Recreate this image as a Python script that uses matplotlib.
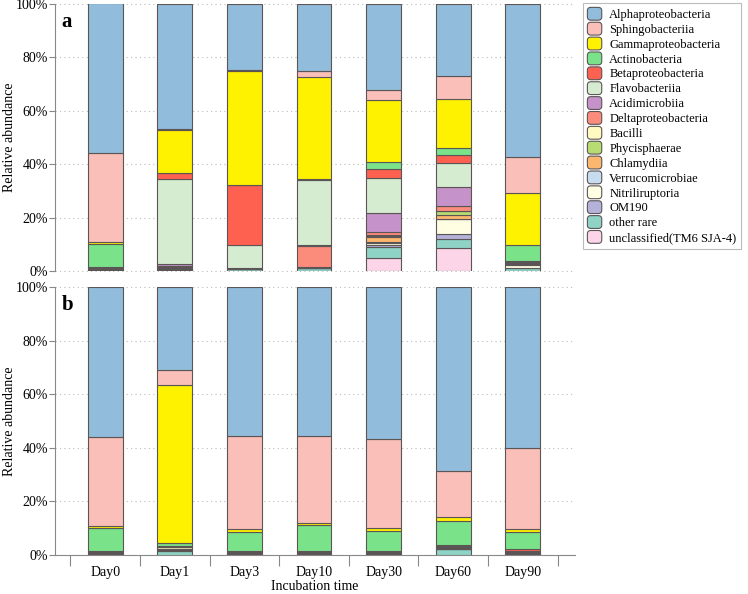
import numpy as np
import matplotlib
matplotlib.use("Agg")
import matplotlib.pyplot as plt
from matplotlib.patches import FancyBboxPatch, Patch
from matplotlib.legend_handler import HandlerPatch

plt.rcParams['font.family'] = ['Liberation Serif', 'DejaVu Serif']

days = ['Day0', 'Day1', 'Day3', 'Day10', 'Day30', 'Day60', 'Day90']

taxa = ['Alphaproteobacteria', 'Sphingobacteriia', 'Gammaproteobacteria',
        'Actinobacteria', 'Betaproteobacteria', 'Flavobacteriia',
        'Acidimicrobiia', 'Deltaproteobacteria', 'Bacilli', 'Phycisphaerae',
        'Chlamydiia', 'Verrucomicrobiae', 'Nitriliruptoria', 'OM190',
        'other rare', 'unclassified(TM6 SJA-4)']

colors = ['#91bcdb', '#fbbfb9', '#fff200', '#7ae38a', '#fe6150', '#d5ecd0',
          '#c593c9', '#fb8b7b', '#fffac0', '#b9dc72', '#fdb66d', '#c8dcef',
          '#fffde2', '#b4b2d8', '#8ed3c6', '#fcd6e8']

# panel a, % per day (same order as taxa)
a_alpha = [55.9, 47.0, 24.8, 25.0, 32.2, 26.8, 57.4]
a_sphingo = [33.4, 0.3, 0.2, 2.3, 3.6, 8.6, 13.2]
a_gamma = [0.8, 15.9, 42.7, 38.2, 23.4, 18.4, 19.7]
a_actino = [8.7, 0.2, 0.2, 0.2, 2.6, 2.9, 6.0]
a_beta = [0.1, 2.3, 22.3, 0.3, 3.3, 2.7, 0.2]
a_flavo = [0.1, 31.6, 8.5, 24.3, 13.2, 9.3, 0.1]
a_acidi = [0.1, 0.8, 0.1, 0.2, 7.2, 6.9, 0.1]
a_delta = [0.2, 0.4, 0.1, 7.9, 1.1, 2.0, 0.2]
a_bacilli = [0.1, 0.1, 0.1, 0.1, 0.3, 0.1, 0.1]
a_phycis = [0.1, 0.1, 0.0, 0.1, 0.3, 1.5, 0.1]
a_chlamy = [0.1, 0.1, 0.1, 0.1, 1.8, 1.3, 0.3]
a_verruco = [0.1, 0.6, 0.1, 0.1, 0.5, 0.1, 0.5]
a_nitri = [0.1, 0.0, 0.1, 0.1, 0.6, 5.7, 1.0]
a_om190 = [0.1, 0.2, 0.1, 0.1, 0.8, 1.6, 0.1]
a_rare = [0.3, 0.4, 0.6, 1.0, 4.3, 3.6, 1.0]
a_uncl = [0.0, 0.0, 0.0, 0.0, 4.8, 8.5, 0.0]

# panel b
b_alpha = [55.9, 31.0, 55.6, 55.6, 56.8, 68.8, 60.2]
b_sphingo = [33.2, 5.7, 34.8, 32.6, 33.2, 17.1, 30.2]
b_gamma = [0.8, 58.7, 1.0, 0.7, 1.0, 1.4, 1.1]
b_actino = [8.6, 1.1, 7.0, 9.6, 7.4, 9.0, 6.4]
b_beta = [0.1, 0.2, 0.2, 0.1, 0.2, 0.3, 0.6]
b_flavo = [0.1, 0.3, 0.1, 0.1, 0.1, 0.1, 0.1]
b_acidi = [0.1, 0.1, 0.1, 0.1, 0.1, 0.1, 0.1]
b_delta = [0.2, 0.1, 0.2, 0.2, 0.1, 0.2, 0.3]
b_bacilli = [0.1, 0.5, 0.1, 0.1, 0.1, 0.1, 0.1]
b_phycis = [0.1, 0.1, 0.1, 0.1, 0.1, 0.1, 0.1]
b_chlamy = [0.1, 0.2, 0.1, 0.1, 0.1, 0.3, 0.1]
b_verruco = [0.1, 0.1, 0.1, 0.1, 0.1, 0.1, 0.1]
b_nitri = [0.1, 0.3, 0.1, 0.1, 0.1, 0.1, 0.1]
b_om190 = [0.1, 0.2, 0.1, 0.1, 0.1, 0.2, 0.1]
b_rare = [0.4, 1.4, 0.4, 0.4, 0.5, 2.1, 0.4]
b_uncl = [0.0, 0.0, 0.0, 0.0, 0.0, 0.0, 0.0]

panel_a = [a_alpha, a_sphingo, a_gamma, a_actino, a_beta, a_flavo, a_acidi,
           a_delta, a_bacilli, a_phycis, a_chlamy, a_verruco, a_nitri,
           a_om190, a_rare, a_uncl]
panel_b = [b_alpha, b_sphingo, b_gamma, b_actino, b_beta, b_flavo, b_acidi,
           b_delta, b_bacilli, b_phycis, b_chlamy, b_verruco, b_nitri,
           b_om190, b_rare, b_uncl]

edge = '#5b5556'
W, H = 748, 594

fig = plt.figure(figsize=(W / 100, H / 100), dpi=100)
ax_a = fig.add_axes([55 / W, 1 - 271 / H, 520 / W, 267 / H])
ax_b = fig.add_axes([55 / W, 1 - 555 / H, 520 / W, 268 / H])


def draw_panel(ax, data, label, bottom_axis):
    x = np.arange(len(days))
    bottom = np.zeros(len(days))
    # stack from the last taxon (bottom) up to Alphaproteobacteria (top)
    for vals, col in zip(data[::-1], colors[::-1]):
        v = np.array(vals, dtype=float)
        ax.bar(x, v, width=0.5, bottom=bottom, color=col,
               edgecolor=edge, linewidth=0.8, zorder=3)
        bottom += v
    ax.set_xlim(-0.72, 6.75)
    ax.set_ylim(0, 100)
    ax.set_yticks(np.arange(0, 101, 20))
    ax.set_yticklabels([f'{t}%' for t in range(0, 101, 20)], fontsize=10)
    for t in range(0, 101, 20):
        if t == 0 and bottom_axis:
            continue
        ax.axhline(t, color='#bbbbbb', linestyle=(0, (1, 3)), linewidth=0.8,
                   zorder=1, clip_on=False)
    for s in ['top', 'right']:
        ax.spines[s].set_visible(False)
    ax.spines['left'].set_color('#888888')
    ax.tick_params(axis='y', color='#888888', length=4, pad=1)
    ax.set_ylabel('Relative abundance', fontsize=10)
    ax.yaxis.set_label_coords(-0.075, 0.5)
    if bottom_axis:
        ax.spines['bottom'].set_color('#888888')
        ax.set_xticks(np.arange(-0.5, 7, 1))
        ax.set_xticklabels([])
        ax.set_xticks(x, minor=True)
        ax.set_xticklabels(days, minor=True, fontsize=10)
        ax.tick_params(axis='x', which='major', color='#888888', length=8)
        ax.tick_params(axis='x', which='minor', length=0, pad=8)
        ax.set_xlabel('Incubation time', fontsize=10)
        ax.xaxis.set_label_coords(0.5, -0.092)
    else:
        ax.spines['bottom'].set_visible(False)
        ax.set_xticks([])
    ax.text(0.012, 0.97, label, transform=ax.transAxes, fontsize=15,
            fontweight='bold', va='top', ha='left')


draw_panel(ax_a, panel_a, 'a', False)
draw_panel(ax_b, panel_b, 'b', True)


def rounded_patch(legend, orig_handle, xdescent, ydescent, width, height,
                  fontsize):
    return FancyBboxPatch((-xdescent, -ydescent), width, height,
                          boxstyle='round,pad=0,rounding_size=2.5')


handles = [Patch(facecolor=c, edgecolor=edge, linewidth=0.8) for c in colors]
leg = fig.legend(handles, taxa, loc='upper left',
                 bbox_to_anchor=(583 / W, 1 - 3 / H), fontsize=9,
                 frameon=True, fancybox=False, edgecolor='#aaaaaa',
                 handlelength=1.15, handleheight=1.2, labelspacing=0.1,
                 handletextpad=0.6, borderpad=0.35, borderaxespad=0,
                 handler_map={Patch: HandlerPatch(patch_func=rounded_patch)})
leg.get_frame().set_linewidth(0.8)

fig.savefig('out.png', dpi=100)
